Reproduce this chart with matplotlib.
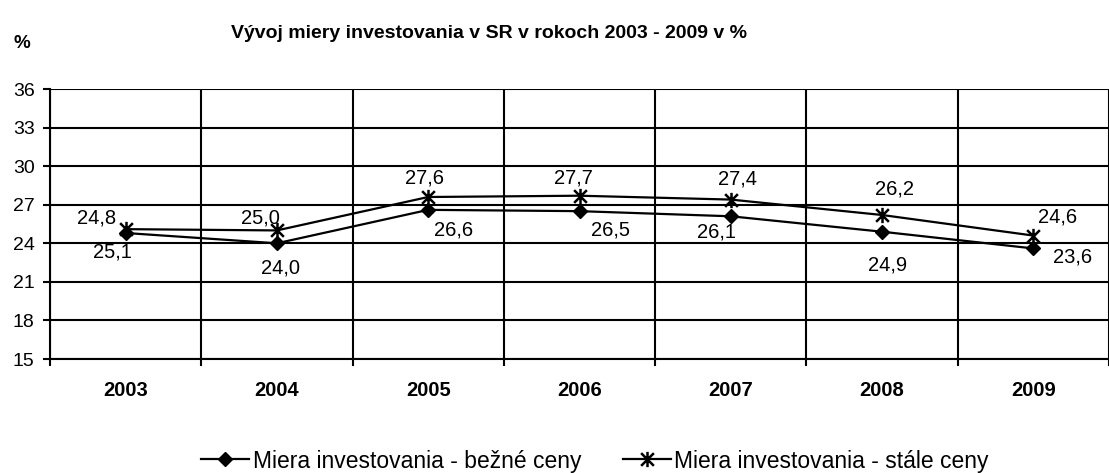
import matplotlib
matplotlib.use("Agg")
import matplotlib.pyplot as plt
from matplotlib.path import Path

plt.rcParams["font.family"] = ["Liberation Sans", "DejaVu Sans"]

years = ["2003", "2004", "2005", "2006", "2007", "2008", "2009"]
bezne_ceny = [24.8, 24.0, 26.6, 26.5, 26.1, 24.9, 23.6]
stale_ceny = [25.1, 25.0, 27.6, 27.7, 27.4, 26.2, 24.6]
y_ticks = [15, 18, 21, 24, 27, 30, 33, 36]

# label offsets in pixels (dx, dy up)
bezne_offsets = [(-29, 15), (4, -25), (25, -20), (31, -19), (-14, -16), (5, -33), (39, -9)]
stale_offsets = [(-13, -23), (-16, 12), (-4, 19), (-6, 18), (7, 21), (12, 26), (24, 19)]

# asterisk marker: X plus a vertical bar
star = Path(
    [(-1, -1), (1, 1), (-1, 1), (1, -1), (0, -1.2), (0, 1.2)],
    [Path.MOVETO, Path.LINETO, Path.MOVETO, Path.LINETO, Path.MOVETO, Path.LINETO],
)

fig = plt.figure(figsize=(11.09, 4.73), dpi=100)
ax = fig.add_axes([50 / 1109, 1 - 359 / 473, 1 - 50 / 1109, 270 / 473])

x = list(range(len(years)))
ax.plot(x, bezne_ceny, color="black", lw=1.6, marker="D", markersize=7,
        label="Miera investovania - bežné ceny", zorder=4)
ax.plot(x, stale_ceny, color="black", lw=1.6, marker=star, markersize=11,
        markeredgewidth=1.8, label="Miera investovania - stále ceny", zorder=4)

for xi, v, (dx, dy) in zip(x, bezne_ceny, bezne_offsets):
    ax.annotate(f"{v:.1f}".replace(".", ","), (xi, v), xytext=(dx, dy),
                textcoords="offset pixels", ha="center", va="center", fontsize=14.5)
for xi, v, (dx, dy) in zip(x, stale_ceny, stale_offsets):
    ax.annotate(f"{v:.1f}".replace(".", ","), (xi, v), xytext=(dx, dy),
                textcoords="offset pixels", ha="center", va="center", fontsize=14.5)

ax.set_ylim(15, 36)
ax.set_yticks(y_ticks)
ax.set_yticklabels([str(t) for t in y_ticks], fontsize=14)
ax.set_xlim(-0.5, 6.43)
ax.set_xticks(x)
ax.set_xticklabels(years, fontsize=14.5, fontweight="bold")
ax.set_xticks([i + 0.5 for i in range(-1, len(years))], minor=True)
ax.tick_params(axis="x", which="major", length=0, pad=16)
ax.tick_params(axis="x", which="minor", length=5, width=1.5, direction="out")
ax.tick_params(axis="y", length=5, width=1.5, direction="out", pad=6)

ax.grid(True, axis="y", color="black", lw=1.5)
ax.grid(True, axis="x", which="minor", color="black", lw=1.5)
ax.set_axisbelow(True)
for side in ["top", "right"]:
    ax.spines[side].set_visible(False)
for side in ["left", "bottom"]:
    ax.spines[side].set_linewidth(1.5)

fig.text(489 / 1109, 1 - 33 / 473, "Vývoj miery investovania v SR v rokoch 2003 - 2009 v %",
         ha="center", va="center", fontsize=14, fontweight="bold")
fig.text(22 / 1109, 1 - 44 / 473, "%", ha="center", va="center", fontsize=13.5, fontweight="bold")

fig.legend(loc="center", bbox_to_anchor=(595 / 1109, 1 - 461 / 473), ncol=2, frameon=False,
           fontsize=16.5, handlelength=2.1, handletextpad=0.15, columnspacing=1.8)

fig.savefig("out.png", dpi=100)
